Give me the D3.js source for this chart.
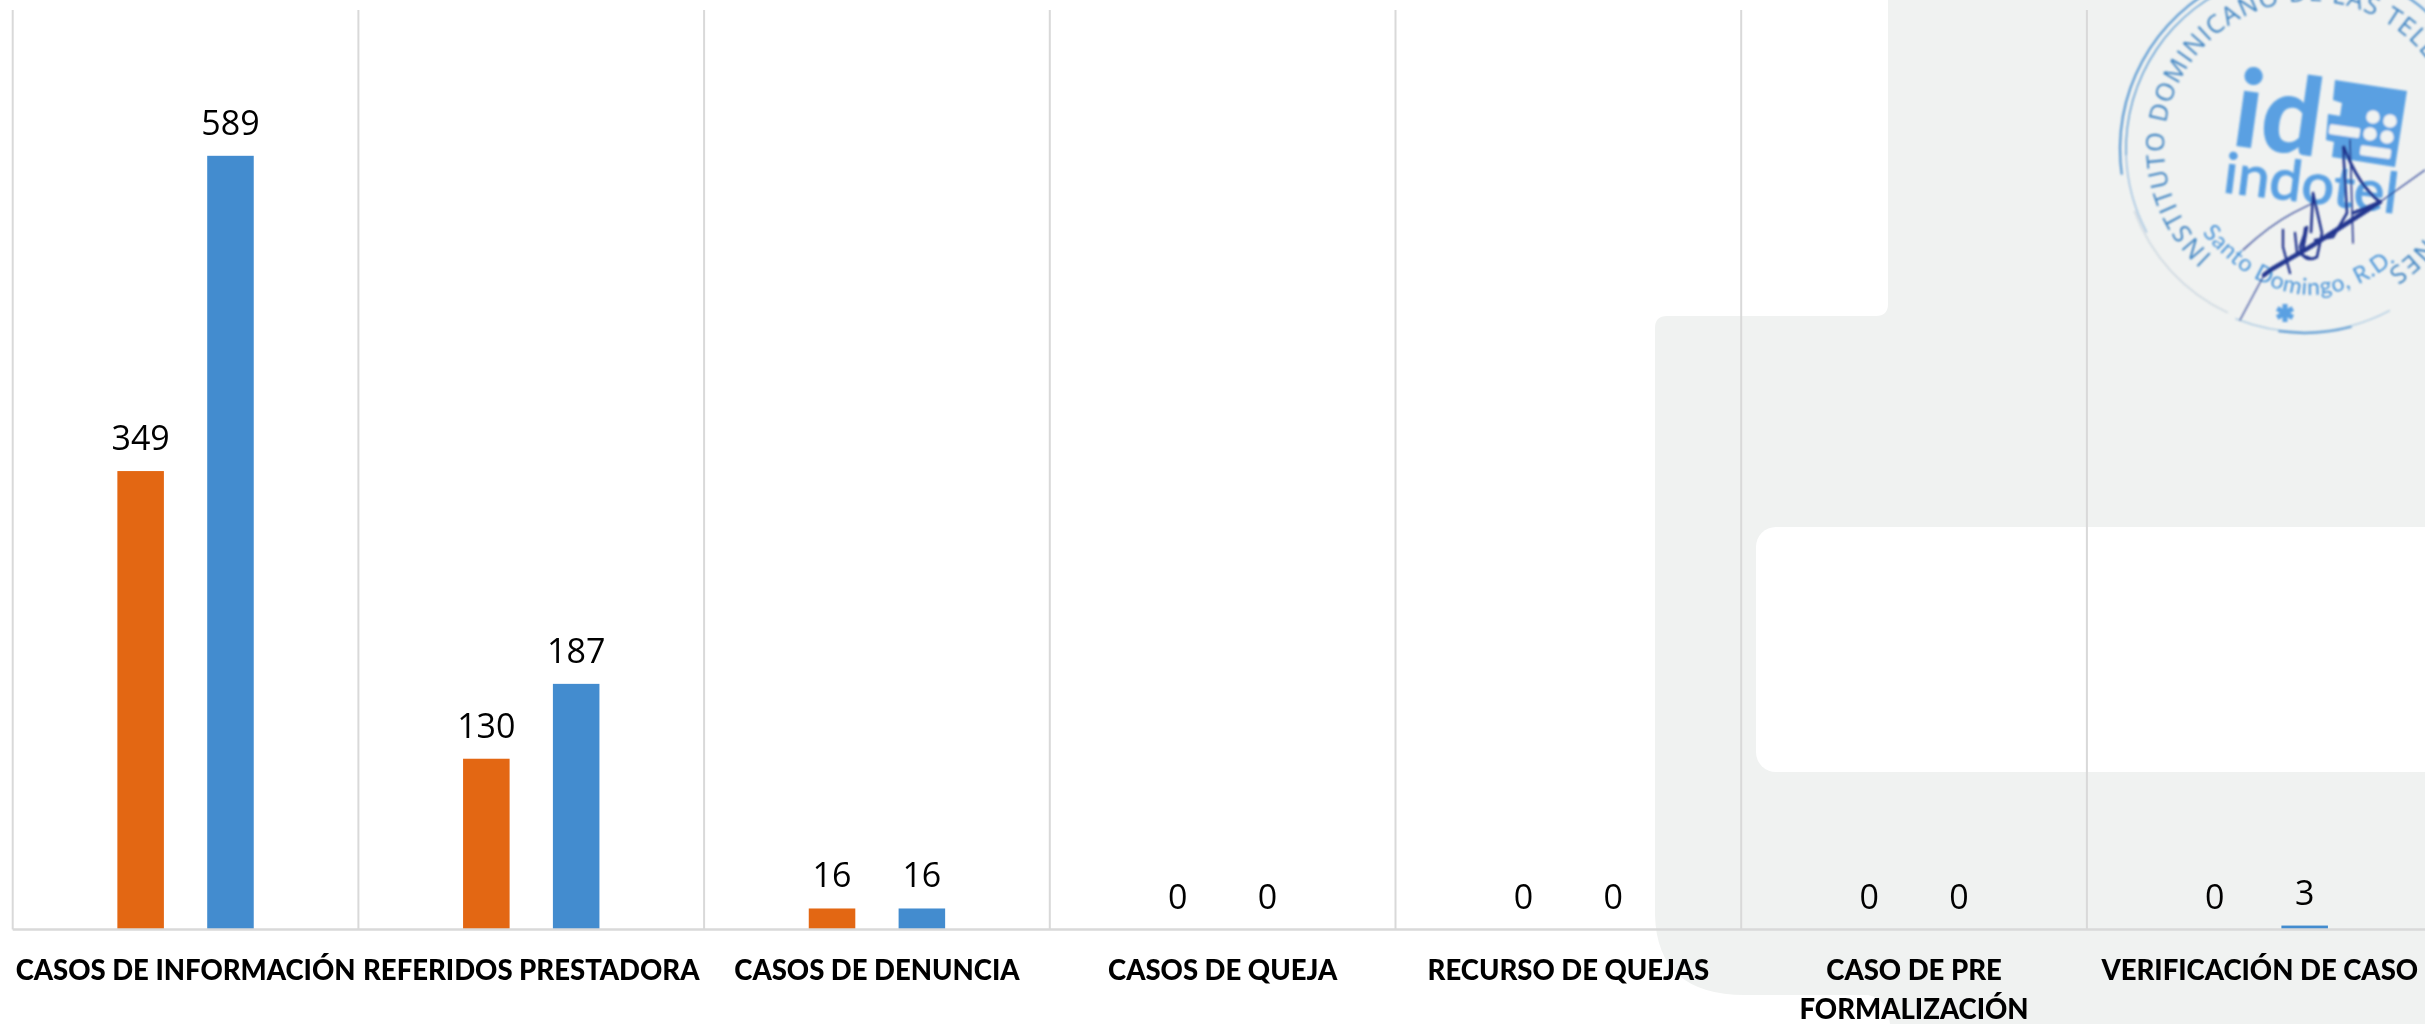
<!DOCTYPE html>
<html lang="es"><head><meta charset="utf-8">
<script src="https://cdn.jsdelivr.net/npm/d3@7/dist/d3.min.js"></script>
<style>html,body{margin:0;padding:0;background:#fff;overflow:hidden}svg{display:block}</style>
</head><body><svg id="c" width="2425" height="1024"></svg>
<script>
const categories=["CASOS DE INFORMACIÓN","REFERIDOS PRESTADORA","CASOS DE DENUNCIA","CASOS DE QUEJA","RECURSO DE QUEJAS","CASO DE PRE FORMALIZACIÓN","VERIFICACIÓN DE CASO"];
const seriesNames=["orange","blue"];
const seriesOrange=[349,130,16,0,0,0,0];
const seriesBlue=[589,187,16,0,0,0,3];
const seriesColors=["#e36713","#438ccf"];

const W=2425,H=1024,left=12.7,step=345.7,top_=10,base=929.5;
const svg=d3.select("#c");
const defs=svg.append("defs");
defs.append("filter").attr("id","soft").append("feGaussianBlur").attr("stdDeviation",0.8);

/* background letterhead shapes */
svg.append("rect").attr("width",W).attr("height",H).attr("fill","#fff");
svg.append("path").attr("fill","#f0f2f1")
 .attr("d","M1888,0 V304 Q1888,316 1876,316 H1667 Q1655,316 1655,328 V915 Q1657,995 1745,995 H1868 Q1887,998 1890,1024 H2425 V0 Z");
svg.append("rect").attr("x",1756).attr("y",527).attr("width",700).attr("height",245).attr("rx",20).attr("fill","#fff");

/* seal */
const seal=svg.append("g").attr("filter","url(#soft)");
const cx=2304,cy=149;
const rad=a=>a*Math.PI/180;
const ring=(r,a0,a1,w,op,col)=>seal.append("path").attr("transform",`translate(${cx},${cy})`)
 .attr("d",d3.arc()({innerRadius:r-w/2,outerRadius:r+w/2,startAngle:rad(a0),endAngle:rad(a1)}))
 .attr("fill",col||"#4a90cf").attr("opacity",op);
ring(184,-98,48,2.2,.9); ring(178,-92,-20,1.5,.85); ring(178,-118,-92,1.3,.55);
ring(183,152,202,1.2,.45); ring(184,165,188,2.2,.8);
ring(180.5,205,250,1.4,.35,"#7f9fbd");
const tc={x:2310,y:147,r:146};
const polar=a=>[tc.x+tc.r*Math.sin(rad(a)),tc.y-tc.r*Math.cos(rad(a))];
const [sx,sy]=polar(222),[ex,ey]=polar(509);
defs.append("path").attr("id","ringText").attr("d",`M${sx},${sy} A${tc.r},${tc.r} 0 1 1 ${ex},${ey}`);
seal.append("text").attr("font-family","Open Sans").attr("font-size",25).attr("fill","#3f84c2")
 .append("textPath").attr("href","#ringText").attr("textLength",728).attr("lengthAdjust","spacing")
 .text("INSTITUTO DOMINICANO DE LAS TELECOMUNICACIONES");
const logo="#5aa0e2";
seal.append("text").attr("transform","translate(2230,145) rotate(8)").attr("font-family","Lato").attr("font-weight",900)
 .attr("font-size",108).attr("fill",logo).attr("textLength",88).attr("lengthAdjust","spacingAndGlyphs").text("id");
seal.append("text").attr("transform","translate(2222,192) rotate(7)").attr("font-family","Lato").attr("font-weight",400)
 .attr("font-size",56).attr("fill",logo).attr("stroke",logo).attr("stroke-width",1.2).attr("textLength",175).attr("lengthAdjust","spacingAndGlyphs").text("indotel");
seal.append("path").attr("fill",logo)
 .attr("d","M2335,80 L2407,91 L2395,167 L2332,157 L2334,142 L2326,140 L2328,114 L2340,116 L2342,103 L2333,100 Z");
[[2373,117],[2390,121],[2370,134],[2387,137]].forEach(p=>seal.append("circle").attr("cx",p[0]).attr("cy",p[1]).attr("r",6.8).attr("fill","#f0f2f1"));
seal.append("rect").attr("x",2329).attr("y",126).attr("width",31).attr("height",10).attr("rx",2).attr("transform","rotate(8 2344 131)").attr("fill","#f0f2f1");
seal.append("rect").attr("x",2360).attr("y",147).attr("width",31).attr("height",10).attr("rx",2).attr("transform","rotate(8 2375 152)").attr("fill","#f0f2f1");
defs.append("path").attr("id","cityText").attr("d","M2202,233 Q2300,345 2404,254");
seal.append("text").attr("font-family","Lato").attr("font-weight",400).attr("font-size",23).attr("fill","#4a94d8")
 .append("textPath").attr("href","#cityText").attr("textLength",222).attr("lengthAdjust","spacing").text("Santo Domingo, R.D.");
seal.append("g").attr("transform","translate(2285,313)").selectAll("line").data([0,60,120]).join("line")
 .attr("x1",0).attr("x2",0).attr("y1",-9).attr("y2",9).attr("transform",d=>`rotate(${d})`)
 .attr("stroke",logo).attr("stroke-width",5);
const sig="#22358f";
const ink=(d,w)=>seal.append("path").attr("d",d).attr("fill","none").attr("stroke",sig).attr("stroke-width",w).attr("stroke-linecap","round").attr("stroke-linejoin","round");
ink("M2240,320 L2263,277 L2270,270 L2310,247 L2380,202 L2425,170",1.1);
ink("M2264,275 L2272,269 L2310,247 L2380,202",4.5);
ink("M2243,250 Q2270,225 2293,213 L2313,203",1.2);
ink("M2313,193 L2322,233 L2317,257 Q2303,264 2300,247 L2307,227 L2303,250 M2313,193 L2311,232",2.6);
ink("M2343,147 L2347,213 L2333,237 L2315,240",2.6);
ink("M2350,140 L2353,243",1.6);
ink("M2344,147 Q2358,185 2380,202 L2353,213",3);
ink("M2283,230 L2283,247 L2290,273",2.4);
ink("M2295,233 L2297,253 L2310,258 M2305,228 L2303,250",2.4);

/* chart */
const x0=d3.scaleBand().domain(categories).range([left,left+step*categories.length]);
const x1=d3.scaleBand().domain(seriesNames).range([0,step]).paddingInner(.482).paddingOuter(1.165);
const y=d3.scaleLinear().domain([0,700]).range([base,top_]);
const color=d3.scaleOrdinal(seriesNames,seriesColors);
const values={orange:seriesOrange,blue:seriesBlue};

svg.append("g").selectAll("line").data(categories).join("line")
 .attr("x1",d=>x0(d)).attr("x2",d=>x0(d)).attr("y1",y(700)).attr("y2",y(0))
 .attr("stroke","#d9d9d9").attr("stroke-width",2);

const groups=svg.append("g").selectAll("g").data(seriesNames).join("g");
groups.selectAll("rect").data(s=>categories.map((c,i)=>({c,s,v:values[s][i]}))).join("rect")
 .attr("x",d=>x0(d.c)+x1(d.s)).attr("width",x1.bandwidth())
 .attr("y",d=>y(d.v)).attr("height",d=>y(0)-y(d.v)).attr("fill",d=>color(d.s));
groups.selectAll("text").data(s=>categories.map((c,i)=>({c,s,v:values[s][i]}))).join("text")
 .attr("x",d=>x0(d.c)+x1(d.s)+x1.bandwidth()/2).attr("y",d=>y(d.v)-21)
 .attr("text-anchor","middle").attr("font-family","Open Sans").attr("font-size",34).attr("fill","#000")
 .text(d=>d.v);

const axis=svg.append("g").attr("transform",`translate(0,${base})`)
 .call(d3.axisBottom(x0).tickSize(0).tickPadding(0));
axis.select(".domain").attr("d",`M${left},0 H${W}`).attr("stroke","#d9d9d9").attr("stroke-width",2.6);
axis.selectAll(".tick text").attr("font-family","Lato").attr("font-weight",900).attr("font-size",27.5).attr("fill","#000")
 .attr("text-anchor","middle").attr("y",0).attr("dy",0)
 .each(function(t){
   const el=d3.select(this);el.text(null);
   const lines=t.length>22?["CASO DE PRE","FORMALIZACIÓN"]:[t];
   lines.forEach((l,i)=>el.append("tspan").attr("x",0).attr("y",50+i*39).text(l));
 });
</script></body></html>
